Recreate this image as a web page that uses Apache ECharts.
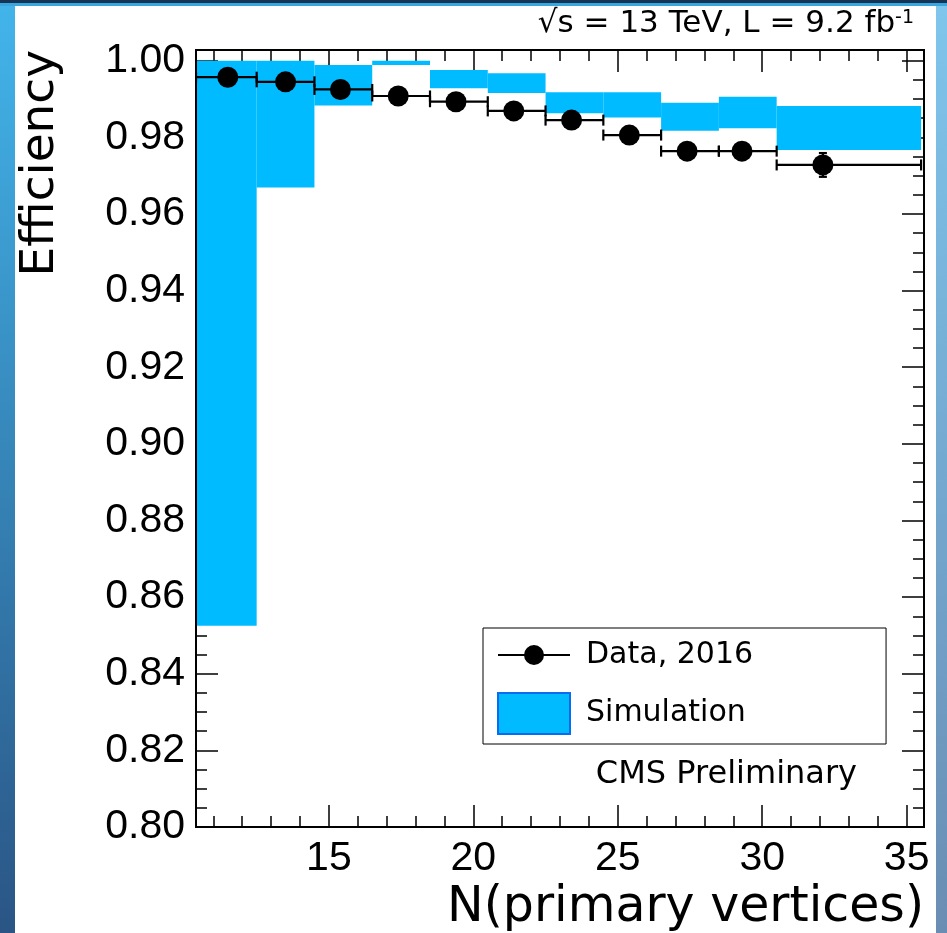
<!DOCTYPE html>
<html><head><meta charset="utf-8">
<script src="https://cdn.jsdelivr.net/npm/echarts@6/dist/echarts.min.js"></script>
<style>html,body{margin:0;padding:0;background:#fff}#c{width:947px;height:933px}</style>
</head><body><div id="c"></div>
<script>
// ---- data ----
const binLo   = [10.4, 12.5, 14.5, 16.5, 18.5, 20.5, 22.5, 24.5, 26.5, 28.5, 30.5];
const binHi   = [12.5, 14.5, 16.5, 18.5, 20.5, 22.5, 24.5, 26.5, 28.5, 30.5, 35.5];
const simLow  = [0.8525, 0.9669, 0.9883, 0.9989, 0.9928, 0.9916, 0.9863, 0.9852, 0.9817, 0.9824, 0.9767];
const simHigh = [1.0000, 1.0000, 0.9989, 1.0000, 0.9976, 0.9967, 0.9918, 0.9918, 0.9890, 0.9906, 0.9882];
const dataX   = [11.5, 13.5, 15.4, 17.4, 19.4, 21.4, 23.4, 25.4, 27.4, 29.3, 32.1];
const dataY   = [0.9957, 0.9945, 0.9925, 0.9908, 0.9893, 0.9869, 0.9845, 0.9806, 0.9764, 0.9764, 0.9728];
const dataYErr= [0.0005, 0.0005, 0.0005, 0.0006, 0.0006, 0.0007, 0.0008, 0.0009, 0.0011, 0.0013, 0.0031];
const xMajorTicks = [15, 20, 25, 30, 35];
const yMajorTicks = [0.80, 0.82, 0.84, 0.86, 0.88, 0.90, 0.92, 0.94, 0.96, 0.98, 1.00];
const xMinorTicks = [];
for (let v = 11; v <= 35; v++) xMinorTicks.push(v);
const yMinorTicks = [];
for (let k = 0; k <= 40; k++) yMinorTicks.push(+(0.8 + k * 0.005).toFixed(3));

const X_MIN = 10.4, X_MAX = 35.6, Y_MIN = 0.80, Y_MAX = 1.0028;
const BLUE = '#00bbff';
const LBL = 'Liberation Sans';
const WORD = 'DejaVu Sans';

const simData = binLo.map((lo, i) => [lo, binHi[i], simLow[i], simHigh[i]]);
const ptData = dataX.map((x, i) => [x, dataY[i], binLo[i], binHi[i], dataYErr[i]]);

function xAx(pos, ticks, len, withLabel) {
  return {
    type: 'value', position: pos, min: X_MIN, max: X_MAX,
    axisLine: {show: false}, splitLine: {show: false},
    axisTick: {show: true, inside: true, length: len, customValues: ticks,
               lineStyle: {color: '#000', width: 1.5}},
    axisLabel: withLabel ? {show: true, customValues: xMajorTicks, margin: 11,
               color: '#000', fontFamily: LBL, fontSize: 41} : {show: false}
  };
}
function yAx(pos, ticks, len, withLabel) {
  return {
    type: 'value', position: pos, min: Y_MIN, max: Y_MAX,
    axisLine: {show: false}, splitLine: {show: false},
    axisTick: {show: true, inside: true, length: len, customValues: ticks,
               lineStyle: {color: '#000', width: 1.5}},
    axisLabel: withLabel ? {show: true, customValues: yMajorTicks, margin: 11,
               color: '#000', fontFamily: LBL, fontSize: 41,
               formatter: v => v.toFixed(2)} : {show: false}
  };
}

const chart = echarts.init(document.getElementById('c'), null, {renderer: 'canvas'});
chart.setOption({
  backgroundColor: '#fff',
  animation: false,
  grid: {left: 196, top: 50, right: 23, bottom: 106, show: true, z: 10,
         borderColor: '#000', borderWidth: 2, backgroundColor: 'transparent',
         outerBoundsMode: 'none', containLabel: false},
  xAxis: [xAx('bottom', xMajorTicks, 22, true), xAx('bottom', xMinorTicks, 11, false),
          xAx('top', xMajorTicks, 22, false), xAx('top', xMinorTicks, 11, false)],
  yAxis: [yAx('left', yMajorTicks, 22, true), yAx('left', yMinorTicks, 11, false),
          yAx('right', yMajorTicks, 22, false), yAx('right', yMinorTicks, 11, false)],
  legend: {
    orient: 'vertical', left: 483, top: 628,
    padding: [12, 133, 9, 14],
    itemWidth: 72, itemHeight: 41, itemGap: 22,
    borderColor: '#000', borderWidth: 1, backgroundColor: '#fff',
    selectedMode: false, symbolKeepAspect: true,
    textStyle: {fontFamily: WORD, fontSize: 30, color: '#000', padding: [0, 0, 0, 11]},
    data: [
      {name: 'Data, 2016', icon: 'path://M0,8H72V10H0Z M26,9A10,10 0 1,1 46,9A10,10 0 1,1 26,9Z',
       itemStyle: {color: '#000', borderWidth: 0}},
      {name: 'Simulation', icon: 'rect',
       itemStyle: {color: BLUE, borderColor: '#0a6cf0', borderWidth: 2}}
    ]
  },
  series: [
    {
      name: 'Simulation', type: 'custom', xAxisIndex: 0, yAxisIndex: 0, clip: true, z: 2,
      itemStyle: {color: BLUE},
      data: simData,
      encode: {x: [0, 1], y: [2, 3]},
      renderItem: function (params, api) {
        const p1 = api.coord([api.value(0), api.value(3)]);
        const p2 = api.coord([api.value(1), api.value(2)]);
        return {type: 'rect', shape: {x: p1[0], y: p1[1], width: p2[0] - p1[0], height: p2[1] - p1[1]},
                style: {fill: BLUE}};
      }
    },
    {
      name: 'Data, 2016', type: 'custom', xAxisIndex: 0, yAxisIndex: 0, clip: true, z: 3,
      itemStyle: {color: '#000'},
      data: ptData,
      encode: {x: 0, y: 1},
      renderItem: function (params, api) {
        const x = api.value(0), y = api.value(1), xl = api.value(2), xh = api.value(3), ye = api.value(4);
        const p = api.coord([x, y]);
        const pl = api.coord([xl, y]);
        const ph = api.coord([xh, y]);
        const pu = api.coord([x, y + ye]);
        const pd = api.coord([x, y - ye]);
        const ls = {stroke: '#000', lineWidth: 2.2};
        const c = 5.5, cw = 4;
        return {type: 'group', children: [
          {type: 'line', shape: {x1: pl[0], y1: pl[1], x2: ph[0], y2: ph[1]}, style: ls},
          {type: 'line', shape: {x1: pl[0], y1: pl[1] - c, x2: pl[0], y2: pl[1] + c}, style: ls},
          {type: 'line', shape: {x1: ph[0], y1: ph[1] - c, x2: ph[0], y2: ph[1] + c}, style: ls},
          {type: 'line', shape: {x1: pd[0], y1: pd[1], x2: pu[0], y2: pu[1]}, style: ls},
          {type: 'line', shape: {x1: pu[0] - cw, y1: pu[1], x2: pu[0] + cw, y2: pu[1]}, style: ls},
          {type: 'line', shape: {x1: pd[0] - cw, y1: pd[1], x2: pd[0] + cw, y2: pd[1]}, style: ls},
          {type: 'circle', shape: {cx: p[0], cy: p[1], r: 10.5}, style: {fill: '#000'}}
        ]};
      }
    }
  ],
  graphic: [
    {type: 'rect', left: 0, top: 0, shape: {width: 947, height: 3}, style: {fill: '#173454'}, silent: true},
    {type: 'rect', left: 0, top: 3, shape: {width: 947, height: 3}, style: {fill: '#3aa6de'}, silent: true},
    {type: 'rect', left: 0, top: 6, shape: {width: 15, height: 927}, silent: true,
     style: {fill: new echarts.graphic.LinearGradient(0, 0, 0, 1, [{offset: 0, color: '#42b4ea'}, {offset: 1, color: '#2a5585'}])}},
    {type: 'rect', left: 936, top: 6, shape: {width: 11, height: 927}, silent: true,
     style: {fill: new echarts.graphic.LinearGradient(0, 0, 0, 1, [{offset: 0, color: '#7fc5ec'}, {offset: 1, color: '#6a8db3'}])}},
    {type: 'text', x: 40.5, y: 50, rotation: Math.PI / 2, silent: true,
     style: {text: 'Efficiency', fontFamily: WORD, fontSize: 47, fill: '#000',
             align: 'right', verticalAlign: 'middle', textAlign: 'right', textVerticalAlign: 'middle'}},
    {type: 'text', x: 924, y: 908, silent: true,
     style: {text: 'N(primary vertices)', fontFamily: WORD, fontSize: 49, fill: '#000',
             align: 'right', verticalAlign: 'middle', textAlign: 'right', textVerticalAlign: 'middle'}},
    {type: 'text', x: 857, y: 775, silent: true,
     style: {text: 'CMS Preliminary', fontFamily: WORD, fontSize: 32, fill: '#000',
             align: 'right', verticalAlign: 'middle', textAlign: 'right', textVerticalAlign: 'middle'}},
    {type: 'text', x: 914, y: 24, silent: true,
     style: {text: '{a|√s = 13 TeV, L = 9.2 fb}{b|-1}', fill: '#000',
             align: 'right', verticalAlign: 'middle', textAlign: 'right', textVerticalAlign: 'middle',
             rich: {a: {fontFamily: WORD, fontSize: 31, fill: '#000', color: '#000'},
                    b: {fontFamily: WORD, fontSize: 19, fill: '#000', color: '#000', verticalAlign: 'top'}}}}
  ]
});
</script></body></html>
